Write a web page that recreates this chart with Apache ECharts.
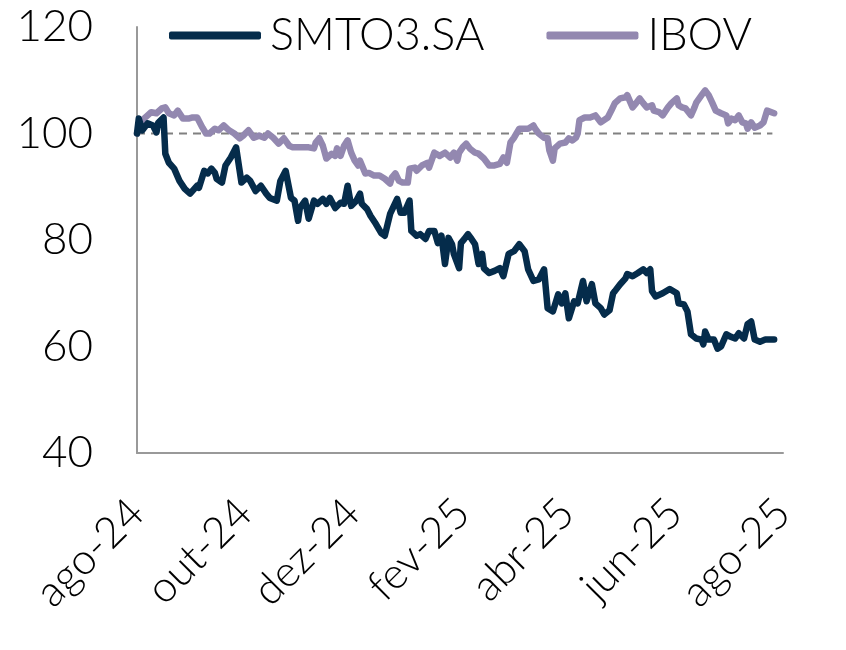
<!DOCTYPE html>
<html>
<head>
<meta charset="utf-8">
<script src="https://cdn.jsdelivr.net/npm/echarts@6/dist/echarts.min.js"></script>
<style>
  html, body { margin: 0; padding: 0; background: #fff; }
  #chart { width: 846px; height: 650px; }
</style>
</head>
<body>
<div id="chart"></div>
<script>
// SMTO3.SA vs IBOV, base 100
const tickDates = ["2024-08-01", "2024-10-01", "2024-12-01", "2025-02-01", "2025-04-01", "2025-06-01", "2025-08-01"];
const tickLabels = ["ago-24", "out-24", "dez-24", "fev-25", "abr-25", "jun-25", "ago-25"];

const smto = [
    ["2024-08-01", 100], ["2024-08-02", 102.8], ["2024-08-04", 100.6], ["2024-08-07", 101.9], ["2024-08-10", 101.5],
    ["2024-08-12", 100.2], ["2024-08-13", 102], ["2024-08-16", 103], ["2024-08-17", 96.2], ["2024-08-19", 94.5],
    ["2024-08-22", 93.4], ["2024-08-25", 91.1], ["2024-08-28", 89.6], ["2024-08-31", 88.7], ["2024-09-01", 88.9],
    ["2024-09-04", 90.2], ["2024-09-05", 89.8], ["2024-09-08", 93.0], ["2024-09-10", 92.5], ["2024-09-12", 93.4],
    ["2024-09-14", 92.6], ["2024-09-15", 91.5], ["2024-09-18", 90.8], ["2024-09-20", 94.0], ["2024-09-23", 95.5],
    ["2024-09-26", 97.4], ["2024-09-28", 93.0], ["2024-09-29", 90.8], ["2024-10-02", 91.7], ["2024-10-04", 91.1],
    ["2024-10-07", 89.2], ["2024-10-10", 90.2], ["2024-10-13", 88.7], ["2024-10-15", 87.9], ["2024-10-19", 87.4],
    ["2024-10-21", 91.1], ["2024-10-24", 93.0], ["2024-10-27", 87.9], ["2024-10-29", 87.4], ["2024-10-31", 83.6],
    ["2024-11-01", 86.0], ["2024-11-04", 87.4], ["2024-11-06", 84.0], ["2024-11-09", 87.4], ["2024-11-11", 86.8],
    ["2024-11-14", 87.7], ["2024-11-16", 86.8], ["2024-11-18", 87.9], ["2024-11-21", 86.0], ["2024-11-24", 87.0],
    ["2024-11-26", 86.8], ["2024-11-28", 90.2], ["2024-11-30", 86.4], ["2024-12-03", 87.4], ["2024-12-05", 88.7],
    ["2024-12-06", 86.8], ["2024-12-09", 85.8], ["2024-12-11", 84.5], ["2024-12-14", 83.0], ["2024-12-17", 81.3],
    ["2024-12-19", 80.8], ["2024-12-22", 84.9], ["2024-12-23", 85.1], ["2024-12-26", 87.7], ["2024-12-28", 85.1],
    ["2024-12-30", 85.1], ["2025-01-02", 87.4], ["2025-01-03", 81.7], ["2025-01-06", 80.8], ["2025-01-08", 81.1],
    ["2025-01-11", 80.2], ["2025-01-13", 81.7], ["2025-01-16", 81.7], ["2025-01-18", 79.4], ["2025-01-20", 80.8],
    ["2025-01-22", 75.5], ["2025-01-24", 80.4], ["2025-01-26", 79.2], ["2025-01-27", 77.4], ["2025-01-30", 74.7],
    ["2025-01-31", 79.4], ["2025-02-02", 80.2], ["2025-02-04", 81.1], ["2025-02-06", 80.2], ["2025-02-08", 79.2],
    ["2025-02-10", 75.5], ["2025-02-12", 77.4], ["2025-02-13", 74.7], ["2025-02-16", 73.8], ["2025-02-19", 74.2],
    ["2025-02-22", 74.7], ["2025-02-24", 73.2], ["2025-02-27", 77.4], ["2025-03-02", 77.9], ["2025-03-05", 79.2],
    ["2025-03-08", 77.9], ["2025-03-10", 74.5], ["2025-03-13", 72.3], ["2025-03-16", 72.6], ["2025-03-19", 74.5],
    ["2025-03-21", 67.2], ["2025-03-24", 66.6], ["2025-03-27", 69.8], ["2025-03-29", 68.1], ["2025-03-31", 70.0],
    ["2025-04-02", 65.3], ["2025-04-05", 68.5], ["2025-04-07", 68.1], ["2025-04-10", 72.3], ["2025-04-12", 68.5],
    ["2025-04-15", 71.7], ["2025-04-17", 68.1], ["2025-04-20", 67.2], ["2025-04-22", 66.0], ["2025-04-25", 66.8],
    ["2025-04-27", 70.0], ["2025-04-28", 70.4], ["2025-05-01", 71.7], ["2025-05-04", 72.8], ["2025-05-05", 73.6],
    ["2025-05-08", 73.2], ["2025-05-11", 73.8], ["2025-05-14", 74.5], ["2025-05-16", 73.8], ["2025-05-18", 74.5],
    ["2025-05-19", 70.4], ["2025-05-21", 69.4], ["2025-05-25", 70.0], ["2025-05-29", 70.8], ["2025-06-02", 70.0],
    ["2025-06-03", 68.1], ["2025-06-06", 67.9], ["2025-06-08", 66.6], ["2025-06-10", 62.3], ["2025-06-13", 61.5],
    ["2025-06-16", 61.3], ["2025-06-17", 60.4], ["2025-06-18", 62.8], ["2025-06-20", 61.3], ["2025-06-23", 61.3],
    ["2025-06-25", 59.6], ["2025-06-27", 60.0], ["2025-06-30", 62.3], ["2025-07-02", 61.9], ["2025-07-05", 61.5],
    ["2025-07-07", 62.5], ["2025-07-10", 61.5], ["2025-07-12", 64.2], ["2025-07-14", 64.7], ["2025-07-16", 61.3],
    ["2025-07-19", 60.9], ["2025-07-22", 61.3], ["2025-07-27", 61.3]
];

const ibov = [
    ["2024-08-01", 100], ["2024-08-04", 102.5], ["2024-08-07", 103.4], ["2024-08-09", 104.0], ["2024-08-12", 103.8],
    ["2024-08-15", 104.7], ["2024-08-17", 104.9], ["2024-08-19", 103.8], ["2024-08-22", 103.4], ["2024-08-24", 104.3],
    ["2024-08-27", 102.8], ["2024-08-30", 102.8], ["2024-09-01", 103.0], ["2024-09-04", 103.0], ["2024-09-07", 101.1],
    ["2024-09-09", 100.0], ["2024-09-11", 100.0], ["2024-09-14", 100.9], ["2024-09-16", 100.6], ["2024-09-19", 101.5],
    ["2024-09-22", 100.6], ["2024-09-25", 100.0], ["2024-09-28", 99.1], ["2024-09-30", 99.6], ["2024-10-03", 100.6],
    ["2024-10-06", 99.2], ["2024-10-09", 99.6], ["2024-10-12", 99.2], ["2024-10-14", 100.0], ["2024-10-17", 99.2],
    ["2024-10-20", 98.1], ["2024-10-23", 99.1], ["2024-10-26", 97.7], ["2024-10-28", 97.4], ["2024-11-01", 97.4],
    ["2024-11-06", 97.4], ["2024-11-09", 97.2], ["2024-11-10", 98.3], ["2024-11-12", 99.1], ["2024-11-14", 97.7],
    ["2024-11-16", 95.3], ["2024-11-19", 96.2], ["2024-11-21", 95.8], ["2024-11-22", 97.2], ["2024-11-24", 95.8],
    ["2024-11-26", 97.7], ["2024-11-28", 98.7], ["2024-11-30", 96.4], ["2024-12-02", 94.9], ["2024-12-04", 94.0],
    ["2024-12-05", 94.9], ["2024-12-08", 92.5], ["2024-12-10", 92.6], ["2024-12-13", 92.1], ["2024-12-16", 92.1],
    ["2024-12-19", 91.5], ["2024-12-22", 90.6], ["2024-12-23", 91.7], ["2024-12-25", 92.5], ["2024-12-27", 91.1],
    ["2024-12-29", 90.8], ["2025-01-01", 90.8], ["2025-01-02", 93.4], ["2025-01-05", 93.6], ["2025-01-06", 93.0],
    ["2025-01-09", 94.0], ["2025-01-12", 94.5], ["2025-01-13", 93.6], ["2025-01-16", 96.4], ["2025-01-19", 95.8],
    ["2025-01-22", 96.4], ["2025-01-25", 95.5], ["2025-01-27", 96.4], ["2025-01-29", 94.9], ["2025-01-30", 96.4],
    ["2025-02-01", 97.4], ["2025-02-03", 98.1], ["2025-02-05", 97.2], ["2025-02-08", 96.4], ["2025-02-10", 96.2],
    ["2025-02-13", 95.3], ["2025-02-16", 94.0], ["2025-02-19", 94.0], ["2025-02-22", 94.3], ["2025-02-24", 95.5],
    ["2025-02-26", 94.5], ["2025-02-28", 98.3], ["2025-03-02", 99.2], ["2025-03-05", 100.9], ["2025-03-08", 100.9],
    ["2025-03-10", 100.9], ["2025-03-13", 101.5], ["2025-03-14", 100.9], ["2025-03-16", 100.0], ["2025-03-19", 99.2],
    ["2025-03-21", 99.1], ["2025-03-22", 96.8], ["2025-03-24", 94.9], ["2025-03-25", 97.2], ["2025-03-28", 98.1],
    ["2025-03-31", 98.3], ["2025-04-02", 99.1], ["2025-04-04", 98.7], ["2025-04-06", 99.2], ["2025-04-07", 100.0],
    ["2025-04-08", 102.5], ["2025-04-11", 103.0], ["2025-04-14", 103.0], ["2025-04-17", 103.4], ["2025-04-20", 102.1],
    ["2025-04-21", 101.9], ["2025-04-24", 103.0], ["2025-04-26", 104.3], ["2025-04-28", 105.7], ["2025-05-01", 106.6],
    ["2025-05-04", 106.8], ["2025-05-05", 107.2], ["2025-05-08", 104.9], ["2025-05-10", 105.7], ["2025-05-12", 106.6],
    ["2025-05-14", 105.7], ["2025-05-16", 104.9], ["2025-05-19", 105.3], ["2025-05-20", 104.3], ["2025-05-23", 104.0],
    ["2025-05-25", 103.4], ["2025-05-28", 104.9], ["2025-05-30", 105.7], ["2025-06-02", 106.6], ["2025-06-03", 105.3],
    ["2025-06-05", 104.9], ["2025-06-07", 104.7], ["2025-06-10", 103.4], ["2025-06-12", 104.9], ["2025-06-13", 105.8],
    ["2025-06-16", 107.2], ["2025-06-18", 108.1], ["2025-06-20", 107.2], ["2025-06-22", 105.8], ["2025-06-24", 104.3],
    ["2025-06-27", 103.8], ["2025-06-30", 103.4], ["2025-07-01", 101.9], ["2025-07-03", 102.8], ["2025-07-05", 102.5],
    ["2025-07-07", 103.4], ["2025-07-09", 102.1], ["2025-07-11", 101.9], ["2025-07-12", 100.9], ["2025-07-14", 102.1],
    ["2025-07-16", 101.1], ["2025-07-19", 101.5], ["2025-07-21", 102.1], ["2025-07-23", 104.3], ["2025-07-27", 103.8]
];

const baseline = [["2024-08-01", 100], ["2025-07-26", 100]];

const fontFamily = "Lato, 'Noto Sans', sans-serif";
function toTime(d) {
    return new Date(d + "T00:00:00").getTime();
}
function toPoints(rows) {
    return rows.map((r) => [toTime(r[0]), r[1]]);
}
const tickTimes = tickDates.map(toTime);

const chart = echarts.init(document.getElementById("chart"));
const option = {
    animation: false,
    grid: { left: 137, right: 63, top: 27, bottom: 197 },
    legend: {
        data: ["SMTO3.SA", "IBOV"],
        left: 164,
        top: 8,
        icon: "roundRect",
        itemWidth: 92,
        itemHeight: 8,
        itemGap: 62,
        textStyle: { fontFamily: fontFamily, fontWeight: 300, fontSize: 45, color: "#000", padding: [0, 0, 0, 4] },
    },
    xAxis: {
        type: "value",
        min: tickTimes[0],
        max: tickTimes[tickTimes.length - 1],
        axisLine: { lineStyle: { color: "#999999", width: 2 } },
        axisTick: { show: false },
        splitLine: { show: false },
        axisLabel: {
            customValues: tickTimes,
            rotate: 45,
            margin: 53,
            fontFamily: fontFamily,
            fontWeight: 300,
            fontSize: 43,
            color: "#000",
            formatter: function (value) {
                const i = tickTimes.indexOf(value);
                return i >= 0 ? tickLabels[i] : "";
            },
        },
    },
    yAxis: {
        type: "value",
        min: 40,
        max: 120,
        interval: 20,
        axisLine: { show: true, lineStyle: { color: "#999999", width: 2 } },
        axisTick: { show: false },
        splitLine: { show: false },
        axisLabel: { margin: 44, fontFamily: fontFamily, fontWeight: 300, fontSize: 44, color: "#000" },
    },
    series: [
        {
            name: "base",
            type: "line",
            data: toPoints(baseline),
            symbol: "none",
            silent: true,
            lineStyle: { color: "#808080", width: 2, type: [8, 6] },
            z: 1,
        },
        {
            name: "IBOV",
            type: "line",
            data: toPoints(ibov),
            symbol: "none",
            color: "#9388b0",
            lineStyle: { width: 6.5, color: "#9388b0", cap: "round", join: "round" },
            z: 2,
        },
        {
            name: "SMTO3.SA",
            type: "line",
            data: toPoints(smto),
            symbol: "none",
            color: "#052c4b",
            lineStyle: { width: 6.5, color: "#052c4b", cap: "round", join: "round" },
            z: 3,
        },
    ],
};
option && chart.setOption(option);
</script>
</body>
</html>
